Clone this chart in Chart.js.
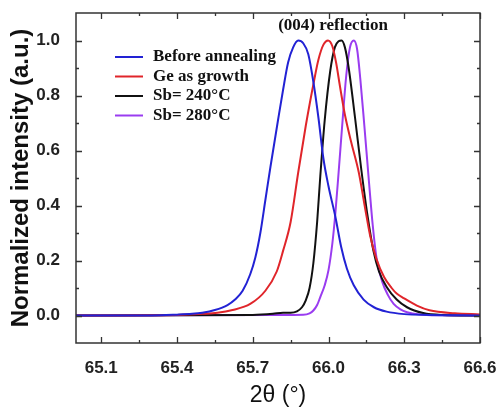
<!DOCTYPE html>
<html>
<head>
<meta charset="utf-8">
<title>(004) reflection</title>
<script src="https://cdn.jsdelivr.net/npm/chart.js@4.4.1/dist/chart.umd.min.js"></script>
<style>
  html, body { margin: 0; padding: 0; background: #fff; }
  #wrap { width: 496px; height: 407px; }
</style>
</head>
<body>
<div id="wrap"><canvas id="xrdChart" width="496" height="407"></canvas></div>
<script>
// ---- data (2theta in degrees, normalized intensity) ----
const seriesLabels = ['Before annealing', 'Ge as growth', 'Sb= 240\u00b0C', 'Sb= 280\u00b0C'];
const seriesColors = ['#2222d4', '#e0252a', '#111111', '#9a3cf0'];

const beforeX = [65.0, 65.3, 65.4, 65.46, 65.5, 65.55, 65.6, 65.63, 65.66, 65.69, 65.71, 65.73, 65.75, 65.77, 65.8, 65.82, 65.84, 65.86, 65.88, 65.9, 65.92, 65.94, 65.96, 65.98, 66.0, 66.027, 66.05, 66.073, 66.1, 66.139, 66.18, 66.23, 66.3, 66.4, 66.6];
const beforeY = [0, 0, 0.003, 0.006, 0.01, 0.02, 0.038, 0.058, 0.09, 0.15, 0.21, 0.3, 0.42, 0.54, 0.71, 0.82, 0.92, 0.975, 1.0, 0.99, 0.95, 0.85, 0.72, 0.57, 0.47, 0.36, 0.25, 0.17, 0.11, 0.058, 0.03, 0.014, 0.005, 0.002, 0];

const geX = [65.0, 65.4, 65.5, 65.56, 65.62, 65.69, 65.75, 65.795, 65.82, 65.85, 65.88, 65.91, 65.94, 65.96, 65.98, 65.998, 66.015, 66.03, 66.046, 66.065, 66.09, 66.12, 66.145, 66.165, 66.19, 66.22, 66.25, 66.27, 66.3, 66.35, 66.4, 66.5, 66.6];
const geY = [0, 0.002, 0.006, 0.01, 0.02, 0.042, 0.09, 0.16, 0.235, 0.34, 0.52, 0.69, 0.84, 0.93, 0.985, 1.0, 0.98, 0.92, 0.83, 0.73, 0.63, 0.52, 0.39, 0.29, 0.205, 0.14, 0.1, 0.08, 0.062, 0.036, 0.019, 0.008, 0.004];

const sb240X = [65.0, 65.7, 65.78, 65.82, 65.85, 65.875, 65.895, 65.91, 65.925, 65.94, 65.955, 65.967, 65.985, 66.007, 66.025, 66.04, 66.052, 66.065, 66.08, 66.105, 66.13, 66.155, 66.178, 66.2, 66.231, 66.27, 66.311, 66.375, 66.45, 66.6];
const sb240Y = [0, 0.002, 0.006, 0.01, 0.01, 0.015, 0.03, 0.055, 0.1, 0.19, 0.34, 0.5, 0.71, 0.89, 0.975, 0.997, 1.0, 0.975, 0.9, 0.72, 0.53, 0.36, 0.235, 0.16, 0.103, 0.058, 0.03, 0.009, 0.002, 0];

const sb280X = [65.0, 65.8, 65.9, 65.925, 65.94, 65.955, 65.967, 65.985, 66.0, 66.015, 66.027, 66.04, 66.055, 66.07, 66.085, 66.1, 66.113, 66.126, 66.142, 66.159, 66.175, 66.19, 66.212, 66.235, 66.258, 66.285, 66.311, 66.36, 66.45, 66.6];
const sb280Y = [0, 0.002, 0.003, 0.008, 0.018, 0.038, 0.066, 0.11, 0.165, 0.26, 0.37, 0.52, 0.7, 0.87, 0.975, 1.0, 0.97, 0.86, 0.69, 0.5, 0.33, 0.21, 0.125, 0.075, 0.042, 0.022, 0.012, 0.004, 0.001, 0];

const xTicks = [65.1, 65.4, 65.7, 66.0, 66.3, 66.6];
const xMinorTicks = [65.25, 65.55, 65.85, 66.15, 66.45];
const yTicks = [0.0, 0.2, 0.4, 0.6, 0.8, 1.0];
const yMinorTicks = [0.1, 0.3, 0.5, 0.7, 0.9];

function toPoints(xs, ys) {
  return xs.map((x, i) => ({x: x, y: ys[i]}));
}

const allX = [beforeX, geX, sb240X, sb280X];
const allY = [beforeY, geY, sb240Y, sb280Y];

const datasets = seriesLabels.map((lab, i) => ({
  label: lab,
  data: toPoints(allX[i], allY[i]),
  borderColor: seriesColors[i],
  backgroundColor: seriesColors[i],
  borderWidth: 2,
  pointRadius: 0,
  cubicInterpolationMode: 'monotone',
  fill: false
}));

// frame + inward ticks on all four sides
const frameTicks = {
  id: 'frameTicks',
  afterDraw(chart) {
    const c = chart.ctx, a = chart.chartArea;
    const xs = chart.scales.x, ys = chart.scales.y;
    c.save();
    c.strokeStyle = '#333';
    c.lineWidth = 1.5;
    c.strokeRect(a.left, a.top, a.right - a.left, a.bottom - a.top);
    c.lineWidth = 1.3;
    c.beginPath();
    const tx = (v, len) => {
      const px = Math.round(xs.getPixelForValue(v)) + 0.5;
      c.moveTo(px, a.bottom); c.lineTo(px, a.bottom - len);
      c.moveTo(px, a.top); c.lineTo(px, a.top + len);
    };
    const ty = (v, len) => {
      const py = Math.round(ys.getPixelForValue(v)) + 0.5;
      c.moveTo(a.left, py); c.lineTo(a.left + len, py);
      c.moveTo(a.right, py); c.lineTo(a.right - len, py);
    };
    xTicks.forEach(v => tx(v, 6));
    xMinorTicks.forEach(v => tx(v, 3));
    yTicks.forEach(v => ty(v, 6));
    yMinorTicks.forEach(v => ty(v, 3));
    c.stroke();
    c.restore();
  }
};

// legend inside the plot + annotation
const innerLegend = {
  id: 'innerLegend',
  afterDraw(chart) {
    const c = chart.ctx;
    c.save();
    c.font = 'bold 17px "Liberation Serif", "Times New Roman", serif';
    c.textBaseline = 'middle';
    chart.data.datasets.forEach((ds, i) => {
      const y = 57 + i * 19.5;
      c.strokeStyle = ds.borderColor;
      c.lineWidth = 2;
      c.beginPath();
      c.moveTo(115, y); c.lineTo(143, y);
      c.stroke();
      c.fillStyle = '#111';
      c.textAlign = 'left';
      c.fillText(ds.label, 153, y);
    });
    c.textAlign = 'center';
    c.fillStyle = '#111';
    c.fillText('(004) reflection', 333, 26);
    c.restore();
  }
};

const tickFont = {family: '"Liberation Sans", Arial, sans-serif', size: 17, weight: 'bold'};

new Chart(document.getElementById('xrdChart'), {
  type: 'line',
  data: {datasets: datasets},
  options: {
    responsive: false,
    animation: false,
    layout: {padding: {top: 13, right: 16, left: 0, bottom: 0}},
    plugins: {legend: {display: false}, tooltip: {enabled: false}},
    scales: {
      x: {
        type: 'linear',
        min: 65.0,
        max: 66.6,
        afterBuildTicks: s => { s.ticks = xTicks.map(v => ({value: v})); },
        afterFit: s => { s.height = 64; s.paddingLeft = 0; s.paddingRight = 0; },
        grid: {display: false},
        border: {display: false},
        ticks: {font: tickFont, color: '#222', padding: 7, maxRotation: 0, autoSkip: false,
                callback: v => v.toFixed(1)},
        title: {display: true, text: '2\u03b8 (\u00b0)', color: '#111',
                font: {family: '"Liberation Sans", Arial, sans-serif', size: 23, lineHeight: 1},
                padding: {top: 0, bottom: 0}}
      },
      y: {
        min: -0.1,
        max: 1.1,
        afterBuildTicks: s => { s.ticks = yTicks.map(v => ({value: v})); },
        afterFit: s => { s.width = 76; s.paddingTop = 0; s.paddingBottom = 0; },
        grid: {display: false},
        border: {display: false},
        ticks: {font: tickFont, color: '#222', padding: 8, autoSkip: false,
                callback: v => v.toFixed(1)},
        title: {display: true, text: 'Normalized intensity (a.u.)', color: '#111',
                font: {family: '"Liberation Sans", Arial, sans-serif', size: 24, weight: 'bold', lineHeight: 1.2},
                padding: {top: 7, bottom: 0}}
      }
    }
  },
  plugins: [frameTicks, innerLegend]
});
</script>
</body>
</html>
